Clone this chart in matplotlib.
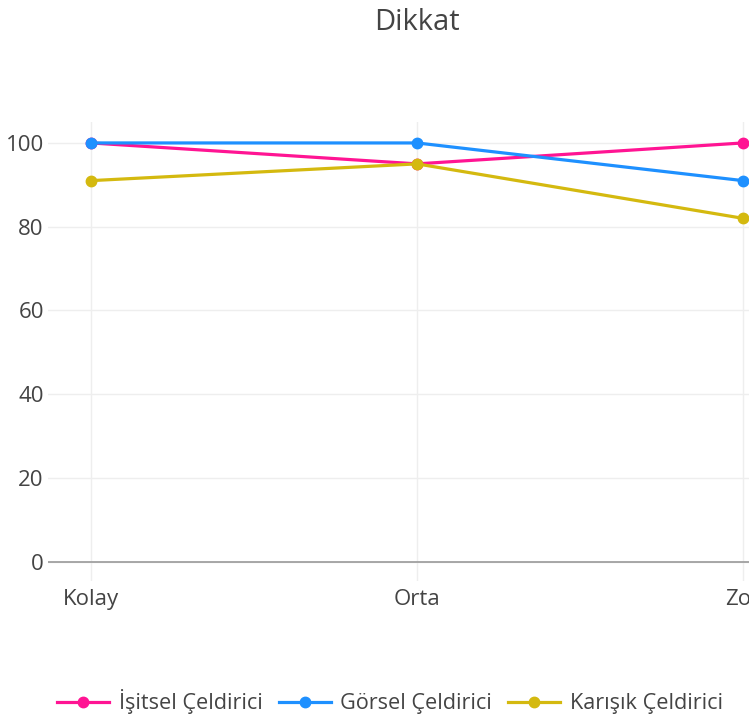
import matplotlib
matplotlib.use("Agg")
import matplotlib.pyplot as plt

plt.rcParams['font.family'] = ['Open Sans', 'DejaVu Sans']

# veriler
levels = ["Kolay", "Orta", "Zor"]
isitsel = [100, 95, 100]
gorsel = [100, 100, 91]
karisik = [91, 95, 82]

series_names = ["İşitsel Çeldirici", "Görsel Çeldirici", "Karışık Çeldirici"]
colors = ["#ff1493", "#1e90ff", "#d4b90f"]

W, H = 749, 726
fig = plt.figure(figsize=(W / 100, H / 100), dpi=100)

# plot alani (sag tarafi resmin disina tasiyor)
left, right, top, bottom = 48, 786, 122, 581
ax = fig.add_axes([left / W, 1 - bottom / H, (right - left) / W, (bottom - top) / H])

x = list(range(len(levels)))
for vals, name, c in zip([isitsel, gorsel, karisik], series_names, colors):
    ax.plot(x, vals, color=c, linewidth=2.3, marker='o', markersize=7.5,
            label=name, clip_on=False, zorder=3)

ax.set_xlim(-0.132, 2.132)
ax.set_ylim(-4.6, 105)
ax.set_xticks(x)
ax.set_xticklabels(levels)
ax.set_yticks([0, 20, 40, 60, 80, 100])

ax.grid(True, color='#eeeeee', linewidth=1)
ax.set_axisbelow(True)
ax.axhline(0, color='#999999', linewidth=1.2, zorder=1)
for s in ax.spines.values():
    s.set_visible(False)
ax.tick_params(length=0, labelsize=16, colors='#444444')
ax.tick_params(axis='y', pad=3)
ax.tick_params(axis='x', pad=6)

fig.text(417 / W, 1 - 23 / H, "Dikkat", ha='center', va='center',
         fontsize=21, color='#444444')

fig.legend(loc='center', bbox_to_anchor=(390 / W, 1 - 702 / H), ncol=3,
           frameon=False, fontsize=15.6, labelcolor='#444444',
           handlelength=2.4, columnspacing=0.75, handletextpad=0.45)

fig.savefig("out.png", dpi=100)
